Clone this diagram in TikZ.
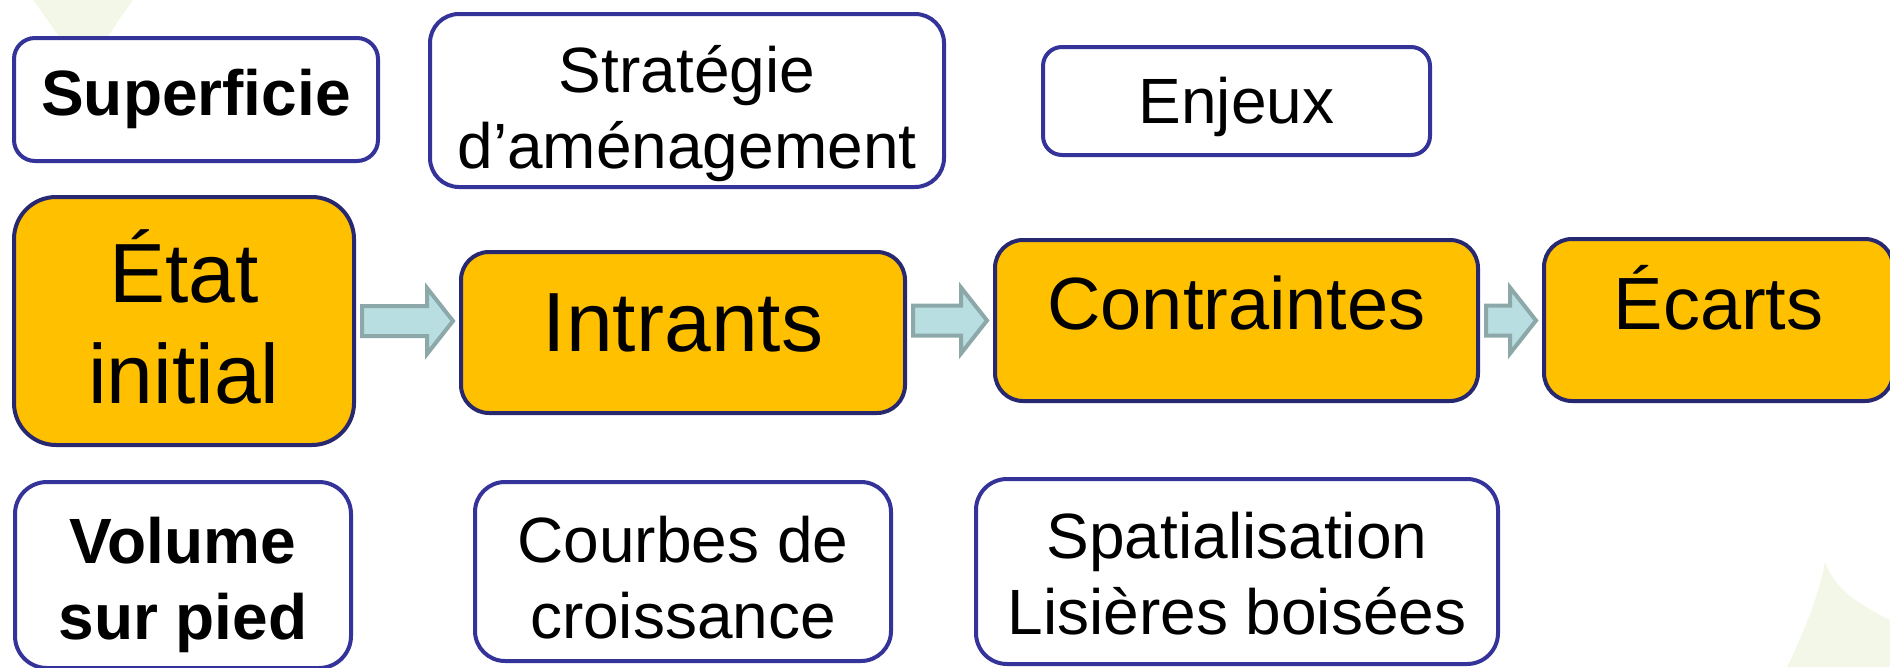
\documentclass[tikz,border=0pt]{standalone}
\usepackage{fontspec}
\setmainfont{Liberation Sans}
\usetikzlibrary{calc}
\definecolor{boxline}{RGB}{51,51,153}
\definecolor{stageline}{RGB}{40,40,112}
\definecolor{stagefill}{RGB}{255,192,0}
\definecolor{flowfill}{RGB}{184,222,225}
\definecolor{flowline}{RGB}{140,168,168}
\definecolor{leaf}{RGB}{243,247,232}
\newcommand{\boxtext}{\fontsize{64}{76}\selectfont}
\newcommand{\stagetext}{\fontsize{74}{89}\selectfont}
\newcommand{\bigstagetext}{\fontsize{84}{101}\selectfont}
\newcommand{\flowarrow}[2]{%
  \draw[flow] let \p1=(#1), \p2=(#2) in
    (\x1+6pt,\y1+15pt) -- (\x2-32pt,\y1+15pt) -- (\x2-32pt,\y1+33pt)
    -- (\x2-6pt,\y1) -- (\x2-32pt,\y1-33pt) -- (\x2-32pt,\y1-15pt)
    -- (\x1+6pt,\y1-15pt) -- cycle;}

\begin{document}
\begin{tikzpicture}[x=1pt, y=-1pt,
    base/.style={rectangle, line width=4pt, align=center, inner sep=2pt},
    plain/.style={base, draw=boxline, fill=white, font=\boxtext},
    stage/.style={base, draw=stageline, fill=stagefill, font=\stagetext},
    flow/.style={draw=flowline, fill=flowfill, line width=4pt}]
  \useasboundingbox (0,0) rectangle (1890,667);
  \fill[leaf] (33,0) .. controls (55,30) and (72,55) .. (84,78)
      .. controls (98,50) and (115,25) .. (133,0) -- cycle;
  \fill[leaf] (1825,562) .. controls (1818,600) and (1800,640) .. (1787,667)
      -- (1890,667) -- (1890,620) .. controls (1860,605) and (1835,590) .. (1825,562);

  \node[plain, font=\boxtext\bfseries, minimum width=364pt, minimum height=123pt,
        rounded corners=21pt, text height=45pt, text depth=14pt] (sup) at (196,99.5) {Superficie};
  \node[plain, minimum width=514pt, minimum height=173pt, rounded corners=29pt,
        text height=149pt, text depth=14pt] (strat) at (687,100.5) {Stratégie\\d’aménagement};
  \node[plain, minimum width=387pt, minimum height=108pt, rounded corners=19pt,
        text height=58pt, text depth=14pt] (enjeux) at (1236.5,101) {Enjeux};

  \node[stage, font=\bigstagetext, minimum width=340pt, minimum height=248pt, rounded corners=42pt,
        text height=182pt, text depth=18pt] (etat) at (184,321) {État\\initial};
  \node[stage, font=\bigstagetext, minimum width=444pt, minimum height=161pt, rounded corners=28pt,
        text height=62pt, text depth=25pt] (intrants) at (683,332.5) {Intrants};
  \node[stage, minimum width=483pt, minimum height=161pt, rounded corners=28pt,
        text height=55pt, text depth=38pt] (contraintes) at (1236.5,320.5) {Contraintes};
  \node[stage, minimum width=349pt, minimum height=162pt, rounded corners=28pt,
        text height=56pt, text depth=38pt] (ecarts) at (1718.5,320) {Écarts};

  \node[plain, font=\boxtext\bfseries, minimum width=336pt, minimum height=186pt,
        rounded corners=32pt, text height=142pt, text depth=14pt] (volume) at (183,575) {Volume\\sur pied};
  \node[plain, minimum width=416pt, minimum height=179pt, rounded corners=30pt,
        text height=147pt, text depth=14pt] (courbes) at (683,571.5) {Courbes de\\croissance};
  \node[plain, minimum width=522pt, minimum height=185pt, rounded corners=31pt,
        text height=139pt, text depth=14pt] (spatial) at (1237,571.5) {Spatialisation\\Lisières boisées};

  \flowarrow{etat.east}{etat.east -| intrants.west}
  \flowarrow{intrants.east |- contraintes.west}{contraintes.west}
  \flowarrow{contraintes.east}{ecarts.west}
\end{tikzpicture}
\end{document}
